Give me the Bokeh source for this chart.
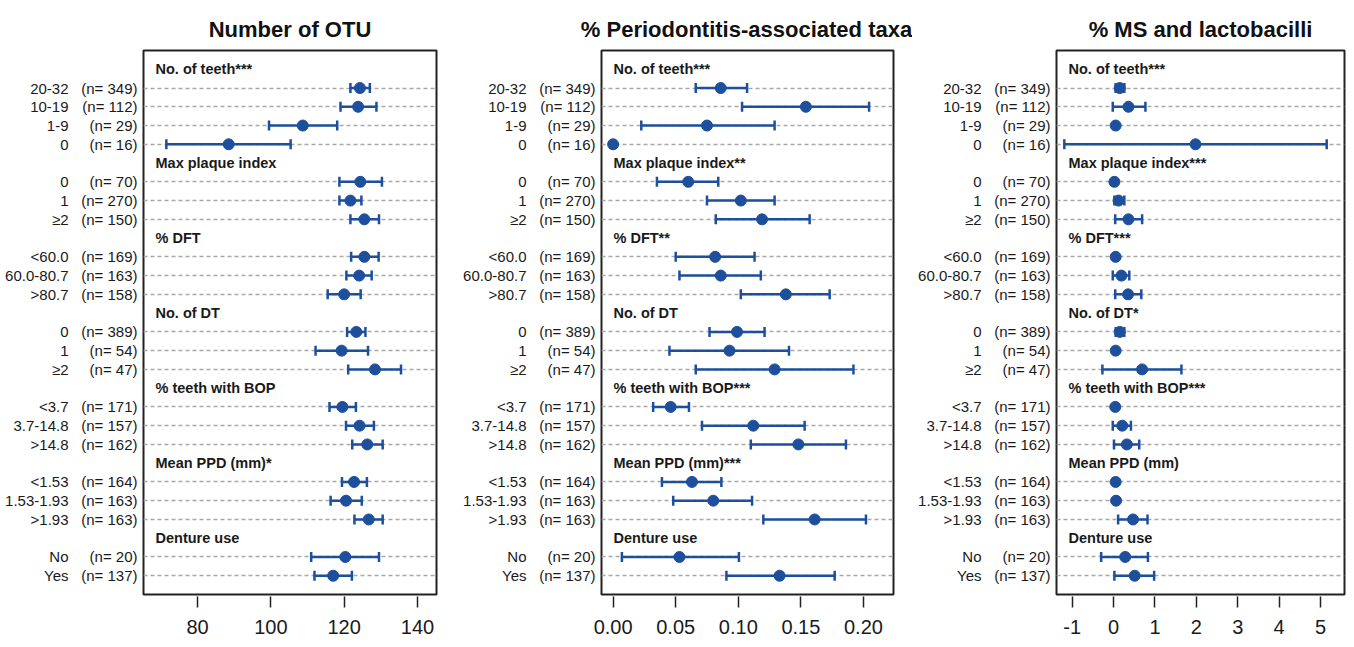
import numpy as np
from bokeh.plotting import figure
from bokeh.layouts import row, column
from bokeh.models import (FixedTicker, Range1d, PrintfTickFormatter, LinearAxis)
from bokeh.core.properties import value
from bokeh.embed import file_html
from bokeh.resources import INLINE

# ---------------- data ----------------
groups = ["No. of teeth", "Max plaque index", "% DFT", "No. of DT",
          "% teeth with BOP", "Mean PPD (mm)", "Denture use"]
group_sizes = [4, 3, 3, 3, 3, 3, 2]
categories = ["20-32", "10-19", "1-9", "0",
              "0", "1", "\u22652",
              "<60.0", "60.0-80.7", ">80.7",
              "0", "1", "\u22652",
              "<3.7", "3.7-14.8", ">14.8",
              "<1.53", "1.53-1.93", ">1.93",
              "No", "Yes"]
n_values = [349, 112, 29, 16, 70, 270, 150, 169, 163, 158, 389, 54, 47,
            171, 157, 162, 164, 163, 163, 20, 137]

sig_otu = ["***", "", "", "", "", "*", ""]
sig_perio = ["***", "**", "**", "", "***", "***", ""]
sig_ms = ["***", "***", "***", "*", "***", "", ""]

otu_mean = [124.3, 123.8, 108.7, 88.5, 124.4, 121.7, 125.5, 125.5, 124.1, 120.0,
            123.3, 119.3, 128.4, 119.5, 124.2, 126.3, 122.7, 120.5, 126.7, 120.3, 117.0]
otu_lo = [121.7, 119.0, 99.5, 71.5, 118.7, 118.7, 121.7, 121.9, 120.6, 115.5,
          120.8, 112.2, 121.1, 116.0, 120.5, 122.2, 119.4, 116.3, 122.8, 111.0, 111.9]
otu_hi = [127.0, 128.8, 118.1, 105.4, 130.3, 124.7, 129.5, 129.4, 127.5, 124.5,
          125.8, 126.5, 135.5, 123.2, 128.1, 130.5, 126.2, 124.8, 130.5, 129.5, 122.1]

perio_mean = [0.086, 0.154, 0.075, 0.0, 0.060, 0.102, 0.119, 0.0815, 0.086, 0.138,
              0.099, 0.093, 0.129, 0.046, 0.112, 0.148, 0.063, 0.080, 0.161, 0.053, 0.133]
perio_lo = [0.066, 0.103, 0.0225, 0.0, 0.035, 0.075, 0.082, 0.050, 0.053, 0.102,
            0.077, 0.045, 0.066, 0.032, 0.071, 0.110, 0.039, 0.048, 0.120, 0.007, 0.0905]
perio_hi = [0.107, 0.2045, 0.129, 0.0, 0.084, 0.129, 0.157, 0.113, 0.118, 0.173,
            0.121, 0.1405, 0.192, 0.0606, 0.153, 0.186, 0.0865, 0.111, 0.202, 0.1005, 0.177]

ms_mean = [0.15, 0.36, 0.05, 1.98, 0.02, 0.12, 0.36, 0.05, 0.19, 0.35,
           0.15, 0.05, 0.69, 0.04, 0.21, 0.32, 0.05, 0.06, 0.47, 0.28, 0.51]
ms_lo = [0.05, -0.02, 0.02, -1.19, 0.0, 0.02, 0.04, 0.02, -0.02, 0.04,
         0.05, 0.02, -0.27, 0.01, -0.02, 0.01, 0.02, 0.03, 0.11, -0.30, 0.02]
ms_hi = [0.26, 0.77, 0.08, 5.15, 0.04, 0.26, 0.69, 0.08, 0.38, 0.67,
         0.26, 0.08, 1.64, 0.07, 0.42, 0.62, 0.08, 0.09, 0.82, 0.83, 0.98]

titles = ["Number of OTU", "% Periodontitis-associated taxa", "% MS and lactobacilli"]
ticks_otu = [80, 100, 120, 140]
ticks_perio = [0.00, 0.05, 0.10, 0.15, 0.20]
ticks_ms = [-1, 0, 1, 2, 3, 4, 5]

# ---------------- layout helpers ----------------
row_slot, header_slot = [], []
s = 0
for size in group_sizes:
    header_slot.append(s)
    s += 1
    for _ in range(size):
        row_slot.append(s)
        s += 1
n_slots = s

BLUE = "#1d4f9c"
TXT = "#1a1a1a"
FONT = "Liberation Sans"
TITLE_H = 44
TOTAL_H = 639


def title_fig(title, width, bl, br):
    # a strip whose data units are pixels; title centred over the panel frame
    t = figure(width=width, height=TITLE_H, x_range=Range1d(0, width),
               y_range=Range1d(0, TITLE_H), output_backend="svg", toolbar_location=None,
               x_axis_location=None, y_axis_location=None,
               min_border_left=0, min_border_right=0, min_border_top=0, min_border_bottom=0)
    t.outline_line_color = None
    t.xgrid.visible = False
    t.ygrid.visible = False
    t.text(x=[(bl + width - br) / 2], y=[TITLE_H - 29], text=[title],
           text_align="center", text_baseline="alphabetic",
           text_font=value(FONT), text_font_size="22px", text_font_style="bold",
           text_color="#111111")
    return t


def label_axis(labels, standoff):
    ax = LinearAxis(ticker=FixedTicker(ticks=row_slot),
                    major_label_overrides={sl: t for sl, t in zip(row_slot, labels)})
    ax.axis_line_color = None
    ax.major_tick_line_color = None
    ax.minor_tick_line_color = None
    ax.major_tick_in = 0
    ax.major_tick_out = 0
    ax.major_label_standoff = standoff
    ax.major_label_text_font = FONT
    ax.major_label_text_font_size = "15px"
    ax.major_label_text_color = TXT
    return ax


def make_panel(mean, lo, hi, sig, xr, ticks, fmt, width, bl, br):
    p = figure(width=width, height=TOTAL_H - TITLE_H, x_range=Range1d(*xr),
               y_range=Range1d(n_slots, -1),
               output_backend="svg", toolbar_location=None, y_axis_location=None,
               min_border_left=bl, min_border_right=br,
               min_border_top=50 - TITLE_H, min_border_bottom=45)
    p.xgrid.visible = False
    p.ygrid.visible = False
    p.outline_line_color = "#222222"
    p.outline_line_width = 2
    p.background_fill_color = "white"
    p.border_fill_color = "white"

    ax = p.xaxis[0]
    ax.ticker = FixedTicker(ticks=ticks)
    ax.formatter = PrintfTickFormatter(format=fmt)
    ax.axis_line_color = None
    ax.minor_tick_line_color = None
    ax.major_tick_in = -2
    ax.major_tick_out = 13
    ax.major_tick_line_color = "#222222"
    ax.major_tick_line_width = 1.5
    ax.major_label_standoff = 12
    ax.major_label_text_font_size = "20px"
    ax.major_label_text_font = FONT
    ax.major_label_text_color = TXT

    # row labels as two stacked left axes (inner: n, outer: category)
    p.add_layout(label_axis(["(n= %d)" % n for n in n_values], 6), "left")
    p.add_layout(label_axis(categories, 10), "left")

    # dashed row guides
    p.hspan(y=row_slot, line_color="#a8a8a8", line_width=1.3, line_dash="4 3")

    # error bars
    p.segment(x0=lo, y0=row_slot, x1=hi, y1=row_slot, line_color=BLUE, line_width=2.5)
    p.scatter(x=list(lo) + list(hi), y=row_slot + row_slot, marker="dash",
              angle=np.pi / 2, size=10, line_color=BLUE, line_width=2.5)
    p.scatter(x=mean, y=row_slot, size=11, fill_color=BLUE, line_color=BLUE)

    # group headers
    p.text(x=[xr[0]] * len(groups), y=header_slot,
           text=[g + sg for g, sg in zip(groups, sig)],
           x_offset=12, text_baseline="middle", text_align="left",
           text_font=value(FONT), text_font_size="14.5px", text_font_style="bold",
           text_color=TXT)
    return p


geo = [(460, 143, 24), (452, 139, 19), (434, 144, 2)]

p1 = make_panel(otu_mean, otu_lo, otu_hi, sig_otu, (65.27, 145.18),
                ticks_otu, "%d", *geo[0])
p2 = make_panel(perio_mean, perio_lo, perio_hi, sig_perio, (-0.00929, 0.224),
                ticks_perio, "%.2f", *geo[1])
p3 = make_panel(ms_mean, ms_lo, ms_hi, sig_ms, (-1.379, 5.58),
                ticks_ms, "%d", *geo[2])

tops = [title_fig(t, *g) for t, g in zip(titles, geo)]

layout = column(row(*tops), row(p1, p2, p3))
open("out.html", "w").write(file_html(layout, INLINE))
